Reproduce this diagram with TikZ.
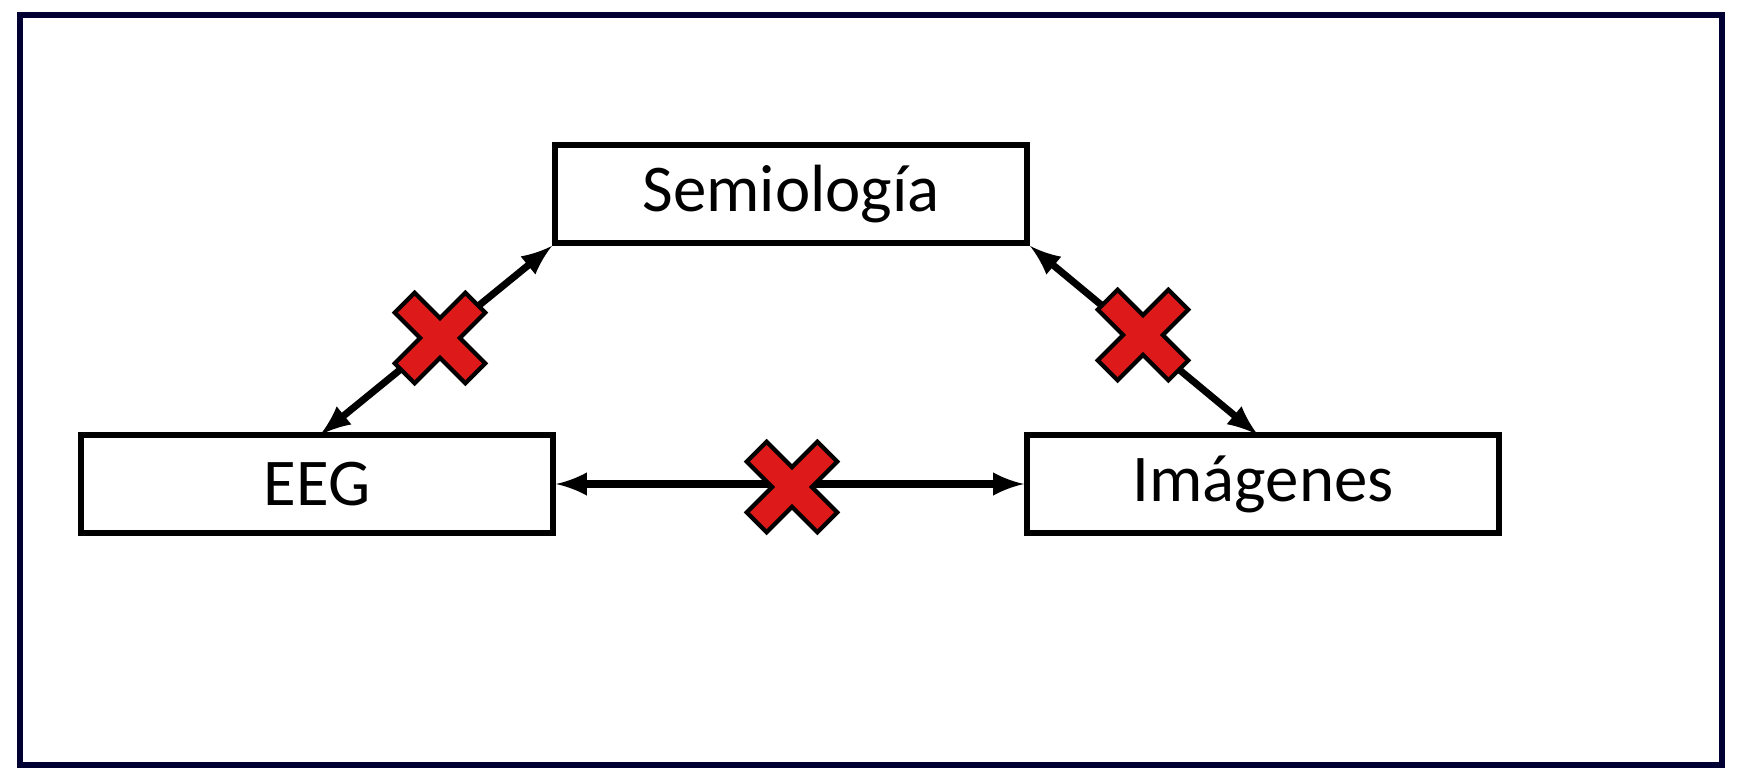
\documentclass[tikz,border=0pt]{standalone}
\usepackage{fontspec}
\setmainfont{Carlito}
\begin{document}
\begin{tikzpicture}[x=0.01cm,y=-0.01cm,
 box/.style={draw=black,line width=1.6pt,minimum width=4.72cm,minimum height=0.98cm,inner sep=0pt,font=\fontsize{19}{22}\selectfont},
 arr/.style={<->,>=latex,line width=2pt},
 cross/.style={fill=red!85!black!90,draw=black,line width=1.2pt}]
\useasboundingbox (0,0) rectangle (1742,781);
\draw[color=black!80!blue,line width=1.6pt] (20,15) rectangle (1722,765);
\node[box] (sem) at (791,194) {Semiología};
\node[box] (eeg) at (317,484) {EEG};
\node[box] (img) at (1263,484) {Imágenes};
\coordinate (a1) at (320,435);
\coordinate (a2) at (1258,435);
\draw[arr] (a1) -- (sem.south west);
\draw[arr] (sem.south east) -- (a2);
\draw[arr] (eeg.east) -- (img.west);
\foreach \n/\cx/\cy in {c1/440/338, c2/1143/335, c3/792/487}{
 \begin{scope}[shift={(\cx,\cy)},rotate=45]
 \draw[cross] (-14,-50) -- (14,-50) -- (14,-14) -- (50,-14) -- (50,14) -- (14,14) -- (14,50) -- (-14,50) -- (-14,14) -- (-50,14) -- (-50,-14) -- (-14,-14) -- cycle;
 \end{scope}
 \coordinate (\n) at (\cx,\cy);
}
\end{tikzpicture}
\end{document}
